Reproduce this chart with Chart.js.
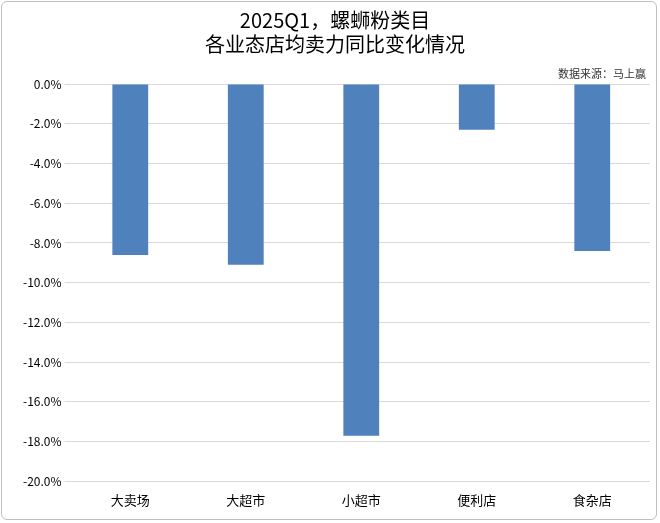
<!DOCTYPE html>
<html>
<head>
<meta charset="utf-8">
<script src="https://cdn.jsdelivr.net/npm/chart.js@4"></script>
<style>
  html, body { margin: 0; padding: 0; background: #fff; }
  #wrap { width: 656px; height: 519px; margin: 1px; border: 1px solid #bfbfbf; border-radius: 6px; box-sizing: border-box; }
</style>
</head>
<body>
<div id="wrap"><canvas id="chart" width="654" height="517"></canvas></div>
<script>
const categories = ["大卖场", "大超市", "小超市", "便利店", "食杂店"];
const values = [-8.6, -9.1, -17.7, -2.3, -8.4];
const titleLines = ["2025Q1，螺蛳粉类目", "各业态店均卖力同比变化情况"];
const sourceNote = "数据来源：马上赢";

const sourcePlugin = {
  id: "sourceNote",
  afterDraw(chart) {
    const ctx = chart.ctx;
    ctx.save();
    ctx.font = "11px 'Noto Sans CJK SC'";
    ctx.fillStyle = "#333";
    ctx.textAlign = "right";
    ctx.fillText(sourceNote, chart.width - 10, 76);
    ctx.restore();
  }
};

new Chart(document.getElementById("chart"), {
  type: "bar",
  data: {
    labels: categories,
    datasets: [{
      data: values,
      backgroundColor: "#4f81bd",
      barPercentage: 0.31,
      categoryPercentage: 1
    }]
  },
  options: {
    responsive: false,
    animation: false,
    layout: { padding: { left: 18, right: 6, top: 6, bottom: 8 } },
    plugins: {
      legend: { display: false },
      tooltip: { enabled: false },
      title: {
        display: true,
        text: titleLines,
        color: "#000",
        font: { family: "'Noto Sans CJK SC'", size: 20, weight: "normal" },
        lineHeight: 1.5,
        padding: { top: 0, bottom: 28 }
      }
    },
    scales: {
      x: {
        position: "bottom",
        grid: { display: false },
        border: { display: false },
        ticks: { color: "#000", font: { family: "'Noto Sans CJK SC'", size: 13 } }
      },
      y: {
        min: -20,
        max: 0,
        ticks: {
          stepSize: 2,
          color: "#000",
          font: { family: "'Noto Sans CJK SC'", size: 12 },
          callback: v => v.toFixed(1) + "%"
        },
        grid: { color: "#d9d9d9" },
        border: { display: false }
      }
    }
  },
  plugins: [sourcePlugin]
});
</script>
</body>
</html>
